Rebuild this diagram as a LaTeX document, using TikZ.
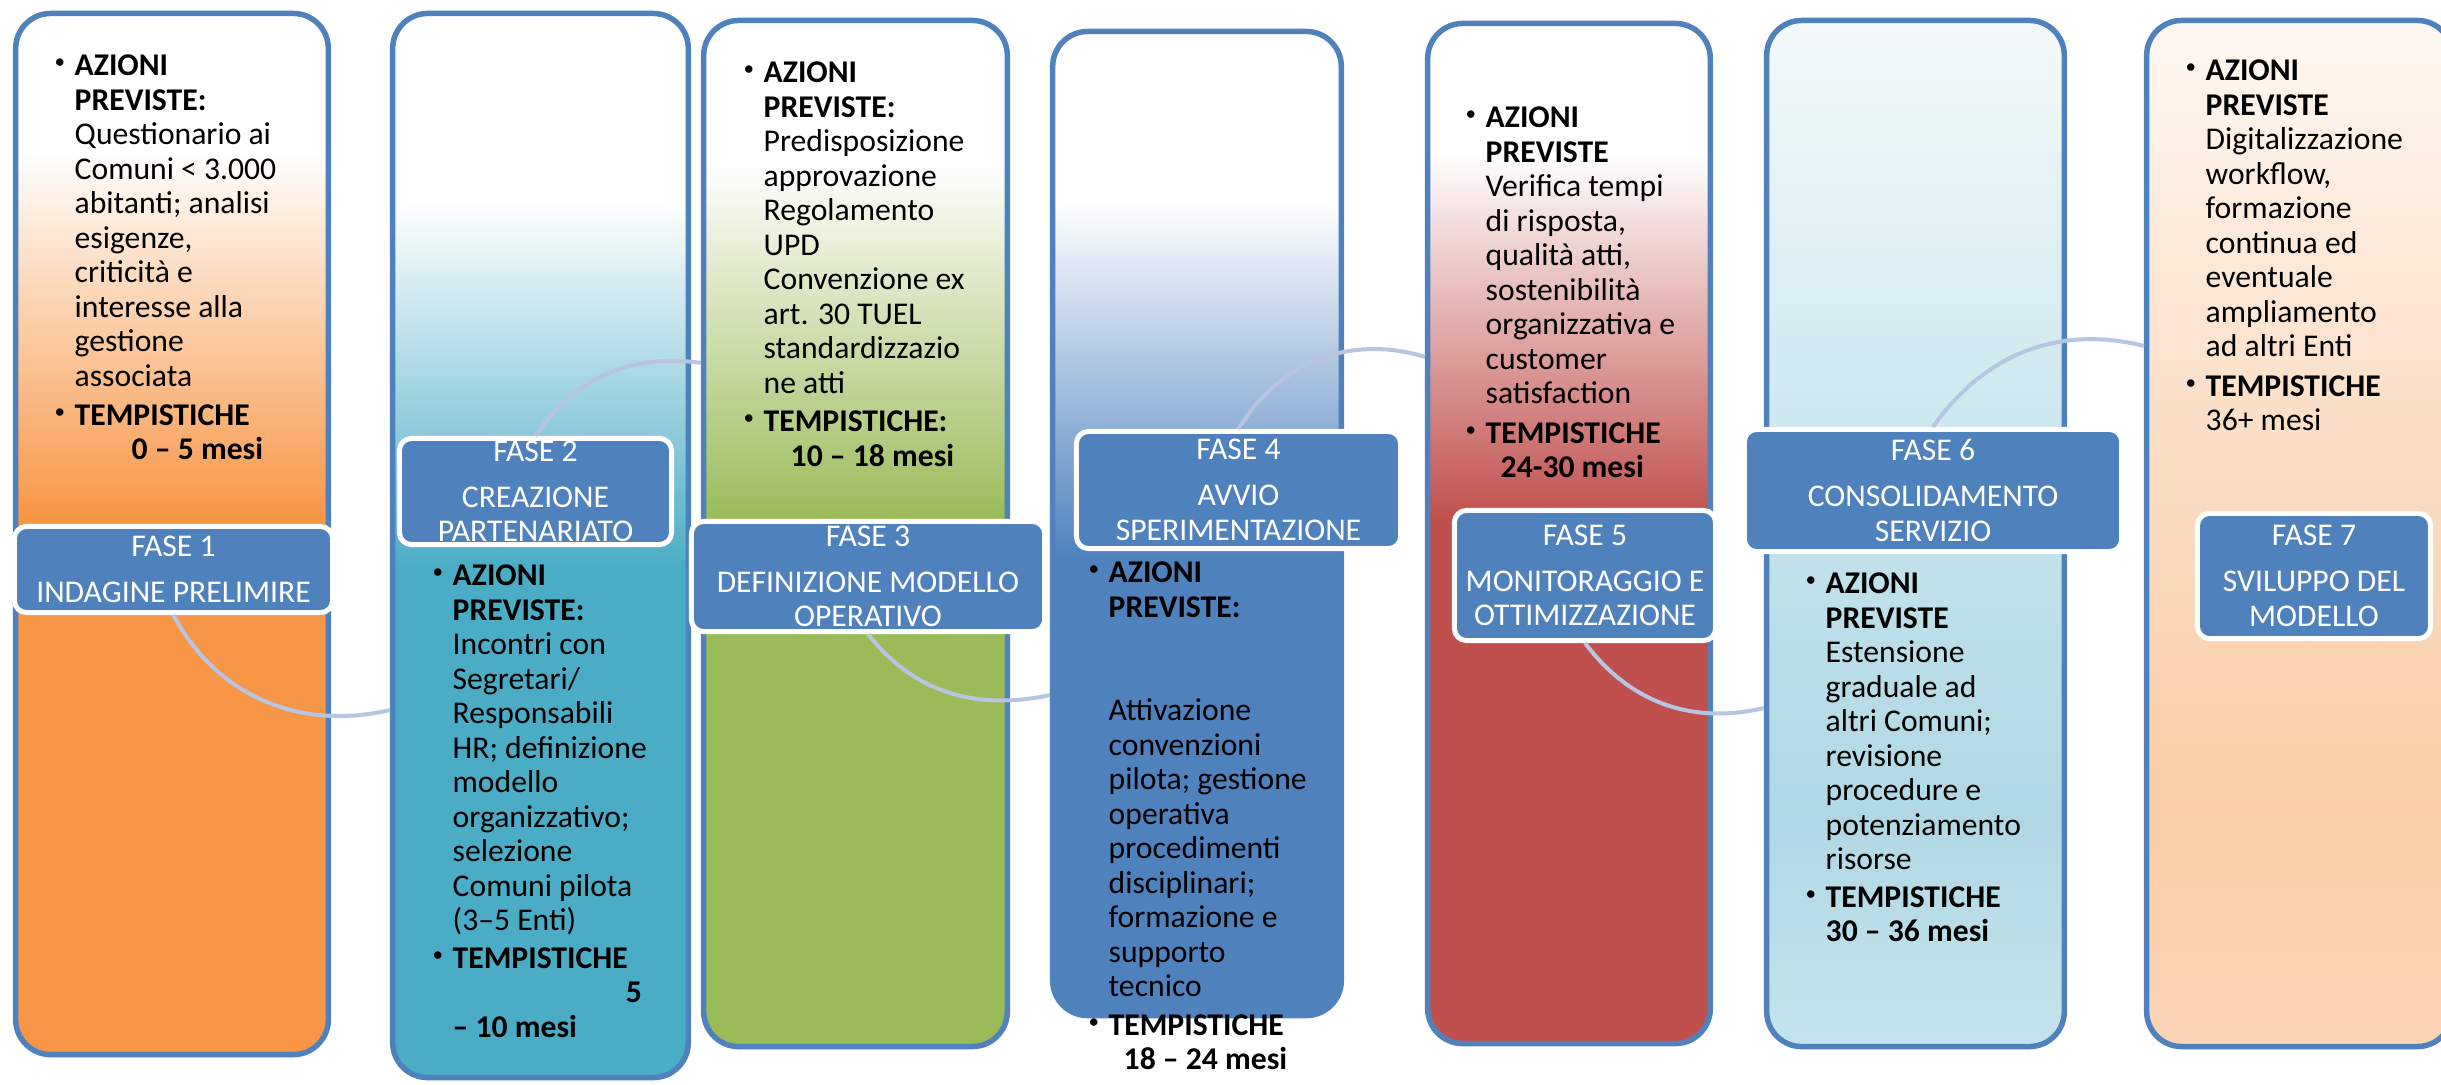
\documentclass[tikz,border=0pt]{standalone}
\usepackage{fontspec}
\setmainfont{Carlito}
\usepackage{tikz}

\definecolor{frame}{HTML}{4F81BD}
\definecolor{phase}{HTML}{4F81BD}
\definecolor{arcline}{HTML}{B8C5E0}
\definecolor{orangeF}{HTML}{F79646}
\definecolor{tealF}{HTML}{4BACC6}
\definecolor{greenF}{HTML}{9BBB59}
\definecolor{blueF}{HTML}{4F81BD}
\definecolor{redF}{HTML}{C0504D}
\definecolor{sky0}{HTML}{F4F9FB}
\definecolor{sky1}{HTML}{BDE0E9}
\definecolor{sky2}{HTML}{B0D8E4}
\definecolor{sky3}{HTML}{C4E4EC}
\definecolor{peach0}{HTML}{FEF8F3}
\definecolor{peach1}{HTML}{FBE0C9}
\definecolor{peach2}{HTML}{F9CEA8}
\definecolor{peach3}{HTML}{FAD5B6}

% fills of the seven columns (white on top)
\pgfdeclareverticalshading{sh1}{100bp}{color(0bp)=(orangeF); color(50.7bp)=(orangeF); color(68.4bp)=(white); color(100bp)=(white)}
\pgfdeclareverticalshading{sh2}{100bp}{color(0bp)=(tealF); color(48.9bp)=(tealF); color(66.2bp)=(white); color(100bp)=(white)}
\pgfdeclareverticalshading{sh3}{100bp}{color(0bp)=(greenF); color(50.7bp)=(greenF); color(68.1bp)=(white); color(100bp)=(white)}
\pgfdeclareverticalshading{sh4}{100bp}{color(0bp)=(blueF); color(48.2bp)=(blueF); color(66.4bp)=(white); color(100bp)=(white)}
\pgfdeclareverticalshading{sh5}{100bp}{color(0bp)=(redF); color(50.7bp)=(redF); color(68.7bp)=(white); color(100bp)=(white)}
\pgfdeclareverticalshading{sh6}{100bp}{color(0bp)=(sky3); color(25bp)=(sky3); color(36.1bp)=(sky2); color(46.8bp)=(sky1); color(75bp)=(sky0); color(100bp)=(sky0)}
\pgfdeclareverticalshading{sh7}{100bp}{color(0bp)=(peach3); color(25bp)=(peach3); color(37.1bp)=(peach2); color(56.5bp)=(peach1); color(75bp)=(peach0); color(100bp)=(peach0)}

\newcommand{\itm}{\llap{\makebox[0.2cm][l]{\raisebox{0.07cm}{\fontsize{6}{6}\selectfont\textbullet}}}}

\begin{document}
\begin{tikzpicture}[x=0.01cm, y=0.01cm,
    panel/.style={draw=frame, line width=0.055cm, rounded corners=0.35cm, shade, shading=#1},
    fase/.style={draw=white, line width=0.05cm, fill=phase, rounded corners=0.12cm, text=white,
        align=center, inner sep=0pt, font=\fontsize{9}{9.81}\selectfont},
    body/.style={anchor=north west, inner sep=0pt, align=left, font=\fontsize{9}{9.81}\selectfont},
    link/.style={draw=arcline, line width=0.04cm}]
    \useasboundingbox (0,0) rectangle (2441,-1084);
    \clip (0,0) rectangle (2441,-1084);
    \fill[white] (0,0) rectangle (2441,-1084);

    % columns
    \foreach \n/\cx/\cy/\w/\h in {1/172/534/3.125/10.405, 2/540.5/545.5/2.955/10.635,
        3/855.5/533.5/3.035/10.255, 4/1197/523.5/2.885/9.835, 5/1569/533.5/2.825/10.195,
        6/1915.5/533.5/2.975/10.255, 7/2299.5/533.5/3.055/10.255}
        \node[panel=sh\n, minimum width=\w cm, minimum height=\h cm] (p\n) at (\cx,-\cy) {};

    % phase labels
    \foreach \n/\cx/\cy/\w/\h/\txt in {1/173.5/569.5/3.18/0.86/{INDAGINE PRELIMIRE},
        2/535.5/491.5/2.72/1.06/{CREAZIONE\\PARTENARIATO},
        3/868/576.5/3.53/1.10/{DEFINIZIONE MODELLO\\OPERATIVO},
        4/1238.5/490/3.24/1.17/{AVVIO\\SPERIMENTAZIONE},
        5/1585/575.5/2.61/1.30/{MONITORAGGIO E\\OTTIMIZZAZIONE},
        6/1933/490.5/3.77/1.22/{CONSOLIDAMENTO\\SERVIZIO},
        7/2314/576/2.33/1.25/{SVILUPPO DEL\\MODELLO}}
        \node[fase, minimum width=\w cm, minimum height=\h cm] (f\n) at (\cx,-\cy) {FASE \n\\[0.115cm]\txt};

    % links between phases
    \draw[link] (f1.south) to[out=-62, in=193] ([yshift=-1.645cm]p2.west);
    \draw[link] (f2.north) to[out=56, in=172] ([yshift=1.705cm]p3.west);
    \draw[link] (f3.south) to[out=-52, in=192] ([yshift=-1.715cm]p4.west);
    \draw[link] (f4.north) to[out=59, in=163] ([yshift=1.765cm]p5.west);
    \draw[link] (f5.south) to[out=-53, in=193] ([yshift=-1.745cm]p6.west);
    \draw[link] (f6.north) to[out=55, in=166] ([yshift=1.875cm]p7.west);

    % texts
    \node[body] (t1) at (74,-50.9) {\strut\itm\textbf{AZIONI}\\ \textbf{PREVISTE:}\\ Questionario ai\\
        Comuni < 3.000\\ abitanti; analisi\\ esigenze,\\ criticità e\\ interesse alla\\ gestione\\
        associata\\[0.045cm] \itm\textbf{TEMPISTICHE}\\ \hspace*{0.57cm}\textbf{0 – 5 mesi}};
    \node[body] (t2) at (452,-560.9) {\strut\itm\textbf{AZIONI}\\ \textbf{PREVISTE:}\\ Incontri con\\
        Segretari/\\ Responsabili\\ HR; definizione\\ modello\\ organizzativo;\\ selezione\\
        Comuni pilota\\ (3–5 Enti)\\[0.03cm] \itm\textbf{TEMPISTICHE}\\ \hspace*{1.73cm}\textbf{5}\\
        \textbf{– 10 mesi}};
    \node[body] (t3) at (763,-57.9) {\strut\itm\textbf{AZIONI}\\ \textbf{PREVISTE:}\\ Predisposizione\\
        approvazione\\ Regolamento\\ UPD\\ Convenzione ex\\ art. 30 TUEL\\ standardizzazio\\
        ne atti\\[0.04cm] \itm\textbf{TEMPISTICHE:}\\ \hspace*{0.27cm}\textbf{10 – 18 mesi}};
    \node[body] (t4) at (1108,-557.9) {\strut\itm\textbf{AZIONI}\\ \textbf{PREVISTE:}\\ \mbox{}\\ \mbox{}\\
        Attivazione\\ convenzioni\\ pilota; gestione\\ operativa\\ procedimenti\\ disciplinari;\\
        formazione e\\ supporto\\ tecnico\\[0.04cm] \itm\textbf{TEMPISTICHE}\\
        \hspace*{0.15cm}\textbf{18 – 24 mesi}};
    \node[body] (t5) at (1485,-102.9) {\strut\itm\textbf{AZIONI}\\ \textbf{PREVISTE}\\ Verifica tempi\\
        di risposta,\\ qualità atti,\\ sostenibilità\\ organizzativa e\\ customer\\
        satisfaction\\[0.05cm] \itm\textbf{TEMPISTICHE}\\ \hspace*{0.15cm}\textbf{24-30 mesi}};
    \node[body] (t6) at (1825,-568.9) {\strut\itm\textbf{AZIONI}\\ \textbf{PREVISTE}\\ Estensione\\
        graduale ad\\ altri Comuni;\\ revisione\\ procedure e\\ potenziamento\\
        risorse\\[0.03cm] \itm\textbf{TEMPISTICHE}\\ \textbf{30 – 36 mesi}};
    \node[body] (t7) at (2205,-55.9) {\strut\itm\textbf{AZIONI}\\ \textbf{PREVISTE}\\ Digitalizzazione\\
        workflow,\\ formazione\\ continua ed\\ eventuale\\ ampliamento\\
        ad altri Enti\\[0.05cm] \itm\textbf{TEMPISTICHE}\\ 36+ mesi};
\end{tikzpicture}
\end{document}
